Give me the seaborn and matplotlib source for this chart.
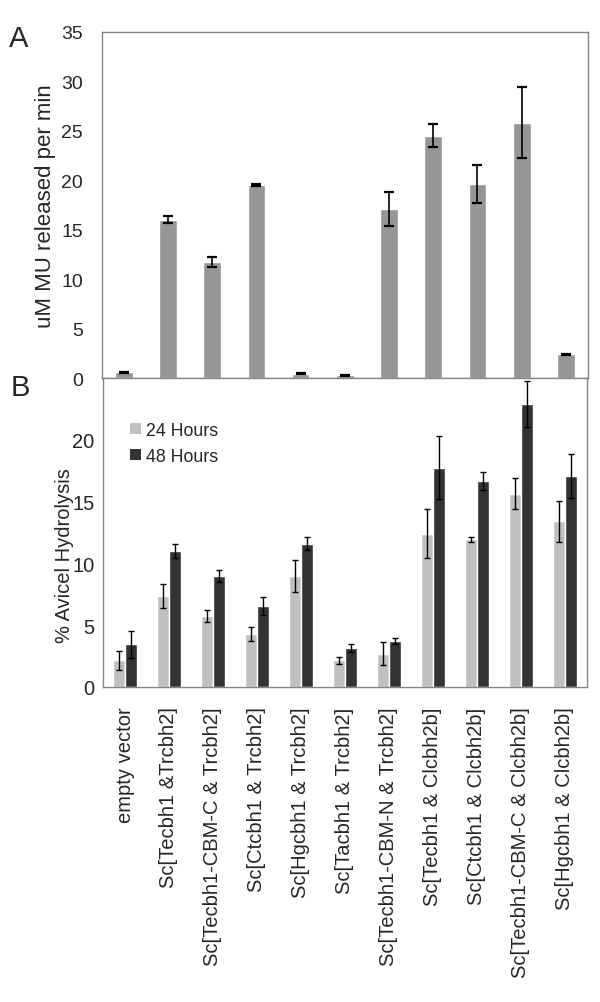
import numpy as np
import pandas as pd
import matplotlib
matplotlib.use("Agg")
import matplotlib.pyplot as plt
from matplotlib.patches import Patch
import seaborn as sns

# ---- data ----
categories = [
    "empty vector",
    "Sc[Tecbh1 &Trcbh2]",
    "Sc[Tecbh1-CBM-C & Trcbh2]",
    "Sc[Ctcbh1 & Trcbh2]",
    "Sc[Hgcbh1 & Trcbh2]",
    "Sc[Tacbh1 & Trcbh2]",
    "Sc[Tecbh1-CBM-N & Trcbh2]",
    "Sc[Tecbh1 & Clcbh2b]",
    "Sc[Ctcbh1 & Clcbh2b]",
    "Sc[Tecbh1-CBM-C & Clcbh2b]",
    "Sc[Hgcbh1 & Clcbh2b]",
]
mu_released = [0.6, 16.0, 11.7, 19.5, 0.45, 0.3, 17.1, 24.5, 19.6, 25.8, 2.4]
mu_err = [0.05, 0.35, 0.5, 0.08, 0.07, 0.05, 1.7, 1.15, 1.95, 3.6, 0.07]

series_names = ["24 Hours", "48 Hours"]
hyd_24 = [2.15, 7.35, 5.75, 4.3, 9.0, 2.15, 2.7, 12.4, 11.95, 15.65, 13.4]
err_24 = [0.77, 0.95, 0.5, 0.57, 1.3, 0.26, 0.95, 2.0, 0.2, 1.22, 1.68]
hyd_48 = [3.45, 11.0, 9.0, 6.55, 11.6, 3.15, 3.75, 17.75, 16.65, 22.9, 17.1]
err_48 = [1.1, 0.54, 0.5, 0.73, 0.5, 0.3, 0.24, 2.57, 0.73, 1.86, 1.77]

yticks_A = [0, 5, 10, 15, 20, 25, 30, 35]
yticks_B = [0, 5, 10, 15, 20]

# ---- style ----
sns.set_style("white")
plt.rcParams["font.family"] = ["Liberation Sans", "DejaVu Sans"]

COL_A = "#969696"
COL_24 = "#c0c0c0"
COL_48 = "#333333"
SPINE = "#868686"

dfA = pd.DataFrame({"construct": categories, "rate": mu_released})
dfB = pd.DataFrame({
    "construct": categories * 2,
    "hydrolysis": hyd_24 + hyd_48,
    "time": [series_names[0]] * len(categories) + [series_names[1]] * len(categories),
})

fig = plt.figure(figsize=(6, 10.03), dpi=100)
axA = fig.add_axes([0.1695, 0.6221, 0.98 - 0.1695, 0.9674 - 0.6221])
axB = fig.add_axes([0.1717, 0.3141, 0.978 - 0.1717, 0.6221 - 0.3141])

# ---- panel A ----
sns.barplot(data=dfA, x="construct", y="rate", order=categories, color=COL_A,
            saturation=1, width=0.4, errorbar=None, ax=axA)
barsA = axA.containers[0]
xa = [b.get_x() + b.get_width() / 2 for b in barsA]
axA.errorbar(xa, mu_released, yerr=mu_err, fmt="none", ecolor="black",
             elinewidth=1.2, capsize=3.5, capthick=1.6)
axA.set_ylim(0, 35)
axA.set_yticks(yticks_A)
axA.set_xlim(-0.5, len(categories) - 0.5)
axA.set_xticks(range(len(categories)))
axA.set_xticklabels([])
axA.set_xticks(np.arange(0.5, len(categories) - 1, 1.0), minor=True)
axA.tick_params(axis="x", which="major", length=0)
axA.tick_params(axis="x", which="minor", length=6, color=SPINE, width=0.8, direction="out")
axA.tick_params(axis="y", length=6, color=SPINE, width=0.8, labelsize=14, pad=7.5)
axA.set_xlabel("")
axA.set_ylabel("uM MU released per min", fontsize=16)
axA.yaxis.set_label_coords(-0.094, 0.5)

# ---- panel B ----
sns.barplot(data=dfB, x="construct", y="hydrolysis", hue="time", order=categories,
            hue_order=series_names, palette=[COL_24, COL_48], saturation=1,
            width=0.55, errorbar=None, ax=axB)
for cont, vals, errs in zip(axB.containers, [hyd_24, hyd_48], [err_24, err_48]):
    xs = [b.get_x() + b.get_width() / 2 for b in cont]
    axB.errorbar(xs, vals, yerr=errs, fmt="none", ecolor="black",
                 elinewidth=1.0, capsize=2.2, capthick=1.0)
axB.set_ylim(0, 25)
axB.set_yticks(yticks_B)
axB.set_xlim(-0.5, len(categories) - 0.5)
axB.tick_params(axis="x", length=0, labelsize=14.5, pad=14, labelrotation=90)
axB.tick_params(axis="y", length=3, color=SPINE, width=0.8, labelsize=14.5, pad=3)
axB.set_xlabel("")
axB.set_ylabel("% Avicel Hydrolysis", fontsize=14.5)
axB.yaxis.set_label_coords(-0.06, 0.43)
leg = axB.get_legend()
if leg is not None:
    leg.remove()
handles = [Patch(facecolor=COL_24, edgecolor="none"), Patch(facecolor=COL_48, edgecolor="none")]
axB.legend(handles, series_names, loc="upper left", bbox_to_anchor=(0.056, 0.858),
           frameon=False, fontsize=12.8, handlelength=0.62, handleheight=0.62,
           handletextpad=0.25, labelspacing=0.5, borderpad=0, borderaxespad=0)

for ax in (axA, axB):
    for s in ax.spines.values():
        s.set_color(SPINE)
        s.set_linewidth(1.0)
        s.set_visible(True)

fig.text(19 / 600, 1 - 38.7 / 1003, "A", ha="center", va="center", fontsize=21)
fig.text(20 / 600, 1 - 387.7 / 1003, "B", ha="center", va="center", fontsize=21)

fig.savefig("out.png", dpi=100, facecolor="white")
